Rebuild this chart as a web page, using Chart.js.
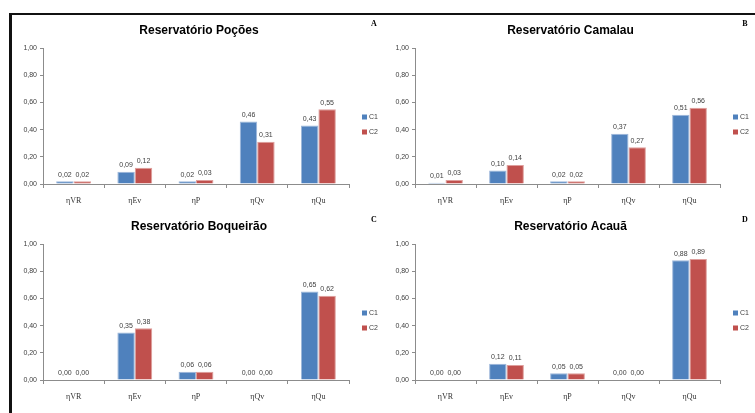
<!DOCTYPE html>
<html>
<head>
<meta charset="utf-8">
<script src="https://cdn.jsdelivr.net/npm/chart.js@4.4.1/dist/chart.umd.min.js"></script>
<style>
  body { margin: 0; background: #fff; }
  #page { position: relative; width: 755px; height: 413px; overflow: hidden; background: #fff; }
  canvas { position: absolute; }
  #frame { position: absolute; left: 9px; top: 13px; width: 760px; height: 420px;
           border-top: 2px solid #111; border-left: 3px solid #111; pointer-events: none; }
</style>
</head>
<body>
<div id="page">
  <canvas id="chartA" width="373" height="196" style="left:12px; top:14px"></canvas>
  <canvas id="chartB" width="371" height="196" style="left:384px; top:14px"></canvas>
  <canvas id="chartC" width="373" height="196" style="left:12px; top:210px"></canvas>
  <canvas id="chartD" width="371" height="196" style="left:384px; top:210px"></canvas>
  <div id="frame"></div>
</div>
<script>
// Données
const categories = ['ηVR', 'ηEv', 'ηP', 'ηQv', 'ηQu'];
const seriesNames = ['C1', 'C2'];
const yTicks = [0, 0.2, 0.4, 0.6, 0.8, 1.0];

const pocoesC1 = [0.02, 0.09, 0.02, 0.46, 0.43];
const pocoesC2 = [0.02, 0.12, 0.03, 0.31, 0.55];
const camalauC1 = [0.01, 0.10, 0.02, 0.37, 0.51];
const camalauC2 = [0.03, 0.14, 0.02, 0.27, 0.56];
const boqueiraoC1 = [0.00, 0.35, 0.06, 0.00, 0.65];
const boqueiraoC2 = [0.00, 0.38, 0.06, 0.00, 0.62];
const acauaC1 = [0.00, 0.12, 0.05, 0.00, 0.88];
const acauaC2 = [0.00, 0.11, 0.05, 0.00, 0.89];

const fmt = v => v.toFixed(2).replace('.', ',');

// Valeurs au-dessus des barres
const valueLabels = {
    id: 'valueLabels',
    afterDatasetsDraw(chart) {
        const ctx = chart.ctx;
        ctx.save();
        ctx.font = '7px "Liberation Sans"';
        ctx.fillStyle = '#404040';
        ctx.textAlign = 'center';
        ctx.textBaseline = 'bottom';
        chart.data.datasets.forEach((ds, i) => {
            chart.getDatasetMeta(i).data.forEach((bar, j) => {
                ctx.fillText(fmt(ds.data[j]), bar.x, bar.y - 3);
            });
        });
        ctx.restore();
    }
};

// Titre, lettre du panneau et légende
const panelDecor = {
    id: 'panelDecor',
    afterDraw(chart, args, opts) {
        const ctx = chart.ctx;
        const a = chart.chartArea;
        ctx.save();
        ctx.fillStyle = '#000';
        ctx.textAlign = 'center';
        ctx.textBaseline = 'middle';
        ctx.font = 'bold 12px "Liberation Sans"';
        ctx.fillText(opts.title, (a.left + a.right) / 2 + 3, a.top - 17);
        ctx.font = 'bold 8px "Liberation Serif"';
        ctx.fillText(opts.letter, a.right + 25, a.top - 24);

        const mid = (a.top + a.bottom) / 2;
        ctx.textAlign = 'left';
        ctx.font = '7px "Liberation Sans"';
        chart.data.datasets.forEach((ds, i) => {
            const y = mid + 1 + i * 15;
            ctx.fillStyle = ds.backgroundColor;
            ctx.fillRect(a.right + 13, y - 2.5, 5, 5);
            ctx.fillStyle = '#404040';
            ctx.fillText(ds.label, a.right + 20, y + 0.5);
        });
        ctx.restore();
    }
};

function makeChart(id, title, letter, c1, c2, padRight) {
    return new Chart(document.getElementById(id), {
        type: 'bar',
        data: {
            labels: categories,
            datasets: [
                { label: seriesNames[0], data: c1, backgroundColor: '#4F81BD', borderColor: '#9DB7DA', borderWidth: 1 },
                { label: seriesNames[1], data: c2, backgroundColor: '#C0504D', borderColor: '#DE9E9C', borderWidth: 1 }
            ]
        },
        options: {
            responsive: false,
            animation: false,
            events: [],
            layout: { padding: { top: 34, right: padRight, left: 0, bottom: 0 } },
            datasets: { bar: { categoryPercentage: 0.57, barPercentage: 1.0 } },
            plugins: {
                legend: { display: false },
                tooltip: { enabled: false },
                panelDecor: { title: title, letter: letter }
            },
            scales: {
                x: {
                    grid: { drawOnChartArea: false, tickLength: 4, color: '#8c8c8c' },
                    border: { color: '#8c8c8c' },
                    ticks: { font: { family: '"Liberation Serif"', size: 8 }, color: '#333', padding: 8 },
                    afterFit: s => { s.height = 26; }
                },
                y: {
                    min: 0,
                    max: 1,
                    afterBuildTicks: s => { s.ticks = yTicks.map(v => ({ value: v })); },
                    grid: { drawOnChartArea: false, tickLength: 3, color: '#8c8c8c' },
                    border: { color: '#8c8c8c' },
                    ticks: { font: { family: '"Liberation Sans"', size: 7 }, color: '#404040', padding: 3,
                             callback: v => fmt(v) },
                    afterFit: s => { s.width = 31; }
                }
            }
        },
        plugins: [valueLabels, panelDecor]
    });
}

makeChart('chartA', 'Reservatório Poções', 'A', pocoesC1, pocoesC2, 36);
makeChart('chartB', 'Reservatório Camalau', 'B', camalauC1, camalauC2, 35);
makeChart('chartC', 'Reservatório Boqueirão', 'C', boqueiraoC1, boqueiraoC2, 36);
makeChart('chartD', 'Reservatório Acauã', 'D', acauaC1, acauaC2, 35);
</script>
</body>
</html>
